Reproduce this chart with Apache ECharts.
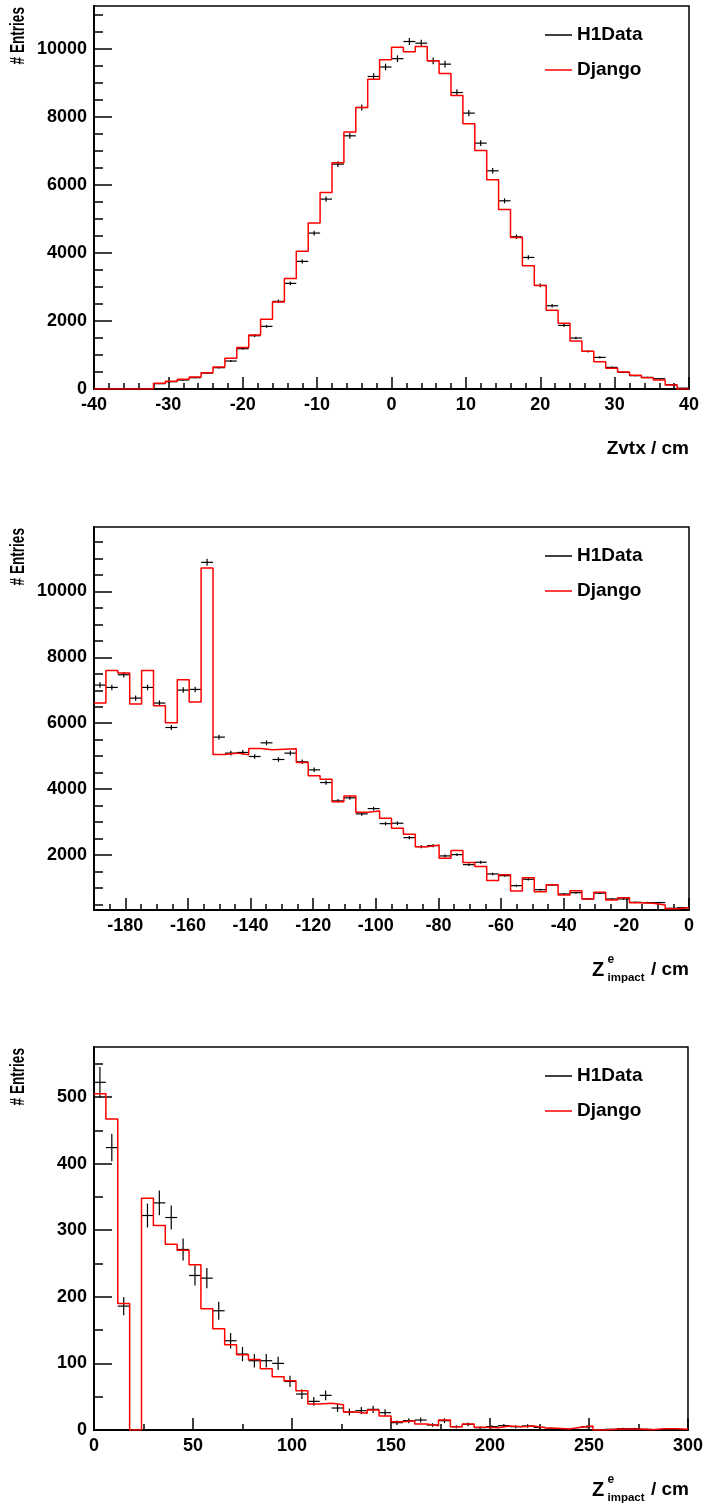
<!DOCTYPE html>
<html>
<head>
<meta charset="utf-8">
<script src="https://cdn.jsdelivr.net/npm/echarts@6/dist/echarts.min.js"></script>
<style>
html, body { margin: 0; padding: 0; background: #fff; }
#chart { width: 706px; height: 1504px; }
</style>
</head>
<body>
<div id="chart"></div>
<script>
// bin contents (50 bins per histogram)
var zvtxDjango = [0, 0, 0, 0, 0, 170, 230, 290, 353, 480,
    647, 902, 1220, 1590, 2050, 2560, 3250, 4055, 4882, 5784,
    6657, 7559, 8280, 9115, 9690, 10055, 9925, 10080, 9660, 9284,
    8637, 7803, 7020, 6157, 5284, 4461, 3627, 3049, 2314, 1932,
    1412, 1108, 804, 608, 500, 402, 333, 265, 118, 0];
var zvtxData = [0, 0, 0, 0, 0, 157, 215, 264, 333, 470,
    627, 823, 1186, 1568, 1843, 2578, 3108, 3755, 4588, 5588,
    6617, 7450, 8283, 9196, 9475, 9720, 10225, 10176, 9657, 9559,
    8724, 8118, 7235, 6421, 5538, 4479, 3871, 3047, 2450, 1871,
    1500, 1106, 930, 636, 490, 392, 343, 303, 127, 25];

var zNegDjango = [6611, 7603, 7522, 6580, 7603, 6529, 6012, 7319, 6641, 10714,
    5049, 5091, 5040, 5232, 5191, 5212, 5222, 4806, 4401, 4300,
    3611, 3793, 3297, 3337, 3115, 2811, 2628, 2252, 2304, 1899,
    2131, 1767, 1645, 1220, 1402, 906, 1311, 885, 1098, 784,
    916, 663, 866, 632, 703, 551, 532, 480, 368, 398];
var zNegData = [7157, 7086, 7471, 6762, 7086, 6611, 5870, 7005, 7025, 10885,
    5577, 5091, 5111, 4989, 5404, 4898, 5091, 4827, 4584, 4198,
    3641, 3733, 3246, 3407, 2950, 2963, 2526, 2252, 2283, 1970,
    2009, 1705, 1778, 1422, 1371, 1067, 1261, 945, 1088, 815,
    854, 663, 840, 663, 663, 562, 552, 552, 380, 398];

var zPosDjango = [505, 467, 190, 0, 348, 307, 279, 270, 248, 182,
    152, 128, 113, 106, 92, 80, 74, 59, 39, 40,
    38, 27, 25, 30, 21, 12.5, 14, 9, 6.5, 15,
    5, 9, 4, 3.5, 6, 5, 6, 3.5, 2.5, 1.5,
    4, 6, 0, 1, 1.5, 1.5, 0.5, 2, 2, 1];
var zPosData = [522, 424, 186, 0, 322, 341, 319, 271, 232, 228,
    179, 134, 114, 104, 104, 100, 73, 54, 43, 52,
    33, 27, 29, 31, 26, 11, 14, 15, 7.5, 14,
    5, 8.5, 3.5, 5, 6.5, 5, 6, 4, 1.5, 1.5,
    0.5, 5, 0, 1, 2, 2, 1, 0, 0, 0];

// tick labels
var zvtxXLabels = [-40, -30, -20, -10, 0, 10, 20, 30, 40];
var zvtxYLabels = [0, 2000, 4000, 6000, 8000, 10000];
var zNegXLabels = [-180, -160, -140, -120, -100, -80, -60, -40, -20, 0];
var zNegYLabels = [2000, 4000, 6000, 8000, 10000];
var zPosXLabels = [0, 50, 100, 150, 200, 250, 300];
var zPosYLabels = [0, 100, 200, 300, 400, 500];

var legendNames = ['H1Data', 'Django'];

function range(a, b, step) {
    var out = [];
    for (var v = a; v <= b + 1e-9; v += step) out.push(Math.round(v * 1000) / 1000);
    return out;
}

var panels = [
    { lo: -40, hi: 40, yMin: 0, yMax: 11270, mc: zvtxDjango, data: zvtxData,
      xMajor: zvtxXLabels, xMinor: range(-40, 40, 2), yMajor: zvtxYLabels, yMinor: range(0, 11000, 500),
      top: 6, title: 'Zvtx / cm' },
    { lo: -190, hi: 0, yMin: 328, yMax: 11957, mc: zNegDjango, data: zNegData,
      xMajor: zNegXLabels, xMinor: range(-190, 0, 5), yMajor: zNegYLabels, yMinor: range(500, 11500, 500),
      top: 527, title: null },
    { lo: 0, hi: 300, yMin: 0, yMax: 575, mc: zPosDjango, data: zPosData,
      xMajor: zPosXLabels, xMinor: range(0, 300, 25), yMajor: zPosYLabels, yMinor: range(0, 550, 50),
      top: 1047, title: null }
];

var FONT = 'Liberation Sans';
var labelStyle = { color: '#000', fontFamily: FONT, fontWeight: 'bold', fontSize: 18,
    formatter: function (v) { return String(v); } };

function histLine(lo, hi, vals) {
    var w = (hi - lo) / vals.length, pts = [];
    for (var i = 0; i < vals.length; i++) pts.push([lo + i * w, vals[i]]);
    pts.push([hi, vals[vals.length - 1]]);
    return pts;
}

function crossPoints(lo, hi, vals) {
    var w = (hi - lo) / vals.length, pts = [];
    for (var i = 0; i < vals.length; i++) {
        if (vals[i] > 0) pts.push([lo + (i + 0.5) * w, vals[i], w / 2]);
    }
    return pts;
}

function renderCross(params, api) {
    var x = api.value(0), y = api.value(1), hw = api.value(2);
    var err = Math.sqrt(y);
    var l = api.coord([x - hw, y]), r = api.coord([x + hw, y]);
    var t = api.coord([x, y + err]), b = api.coord([x, y - err]);
    var st = { stroke: '#000', lineWidth: 1.2 };
    return {
        type: 'group',
        children: [
            { type: 'line', shape: { x1: l[0], y1: l[1], x2: r[0], y2: r[1] }, style: st },
            { type: 'line', shape: { x1: t[0], y1: t[1], x2: b[0], y2: b[1] }, style: st }
        ]
    };
}

var grids = [], xAxes = [], yAxes = [], series = [], legends = [], graphics = [];

panels.forEach(function (p, g) {
    grids.push({ left: 94, top: p.top, width: 595, height: 383, show: true,
        borderColor: '#000', borderWidth: 1.5, backgroundColor: 'transparent' });

    xAxes.push({
        type: 'value', gridIndex: g, min: p.lo, max: p.hi, position: 'bottom',
        axisLine: { show: true, onZero: false, lineStyle: { color: '#000', width: 2 } },
        axisTick: { show: true, inside: true, length: 12, customValues: p.xMajor, lineStyle: { color: '#000', width: 1.5 } },
        axisLabel: Object.assign({ customValues: p.xMajor, margin: 7 }, labelStyle),
        splitLine: { show: false }
    });
    xAxes.push({
        type: 'value', gridIndex: g, min: p.lo, max: p.hi, position: 'bottom',
        axisLine: { show: false, onZero: false },
        axisTick: { show: true, inside: true, length: 6, customValues: p.xMinor, lineStyle: { color: '#000', width: 1.5 } },
        axisLabel: { show: false },
        splitLine: { show: false }
    });
    yAxes.push({
        type: 'value', gridIndex: g, min: p.yMin, max: p.yMax, position: 'left',
        axisLine: { show: true, onZero: false, lineStyle: { color: '#000', width: 2 } },
        axisTick: { show: true, inside: true, length: 18, customValues: p.yMajor, lineStyle: { color: '#000', width: 1.5 } },
        axisLabel: Object.assign({ customValues: p.yMajor, margin: 7 }, labelStyle),
        splitLine: { show: false }
    });
    yAxes.push({
        type: 'value', gridIndex: g, min: p.yMin, max: p.yMax, position: 'left',
        axisLine: { show: false, onZero: false },
        axisTick: { show: true, inside: true, length: 9, customValues: p.yMinor, lineStyle: { color: '#000', width: 1.5 } },
        axisLabel: { show: false },
        splitLine: { show: false }
    });

    series.push({
        name: 'Django', type: 'line', xAxisIndex: 2 * g, yAxisIndex: 2 * g,
        data: histLine(p.lo, p.hi, p.mc), step: 'end', symbol: 'none', clip: true,
        lineStyle: { color: '#ff0000', width: 1.5 }, itemStyle: { color: '#ff0000' }
    });
    series.push({
        name: 'H1Data', type: 'custom', xAxisIndex: 2 * g, yAxisIndex: 2 * g,
        data: crossPoints(p.lo, p.hi, p.data), renderItem: renderCross, clip: true,
        itemStyle: { color: '#000' }
    });

    legends.push({
        data: [
            { name: legendNames[0], icon: 'rect', itemStyle: { color: '#000' } },
            { name: legendNames[1], icon: 'rect', itemStyle: { color: '#ff0000' } }
        ],
        orient: 'vertical', left: 540, top: p.top + 14.5, itemWidth: 27, itemHeight: 1.5,
        itemGap: 16, selectedMode: false,
        textStyle: { color: '#000', fontFamily: FONT, fontWeight: 'bold', fontSize: 19 }
    });

    graphics.push({
        type: 'text', x: 18, y: p.top + 1, rotation: Math.PI / 2, scaleX: 0.68,
        style: { text: '# Entries', fill: '#000', font: 'bold 20px "Liberation Sans"',
            textAlign: 'right', textVerticalAlign: 'middle' }
    });

    var ny = p.top + 443;
    if (p.title) {
        graphics.push({ type: 'text', x: 689, y: ny,
            style: { text: p.title, fill: '#000', font: 'bold 19px "Liberation Sans"',
                textAlign: 'right', textVerticalAlign: 'middle' } });
    } else {
        graphics.push({ type: 'text', x: 592, y: ny,
            style: { text: 'Z', fill: '#000', font: 'bold 20px "Liberation Sans"', textVerticalAlign: 'middle' } });
        graphics.push({ type: 'text', x: 607.5, y: ny - 10,
            style: { text: 'e', fill: '#000', font: 'bold 12px "Liberation Sans"', textVerticalAlign: 'middle' } });
        graphics.push({ type: 'text', x: 607.5, y: ny + 8,
            style: { text: 'impact', fill: '#000', font: 'bold 11.5px "Liberation Sans"', textVerticalAlign: 'middle' } });
        graphics.push({ type: 'text', x: 689, y: ny,
            style: { text: '/ cm', fill: '#000', font: 'bold 19px "Liberation Sans"',
                textAlign: 'right', textVerticalAlign: 'middle' } });
    }
});

var chart = echarts.init(document.getElementById('chart'));
chart.setOption({
    backgroundColor: '#fff',
    animation: false,
    grid: grids,
    xAxis: xAxes,
    yAxis: yAxes,
    legend: legends,
    series: series,
    graphic: graphics
});
</script>
</body>
</html>
